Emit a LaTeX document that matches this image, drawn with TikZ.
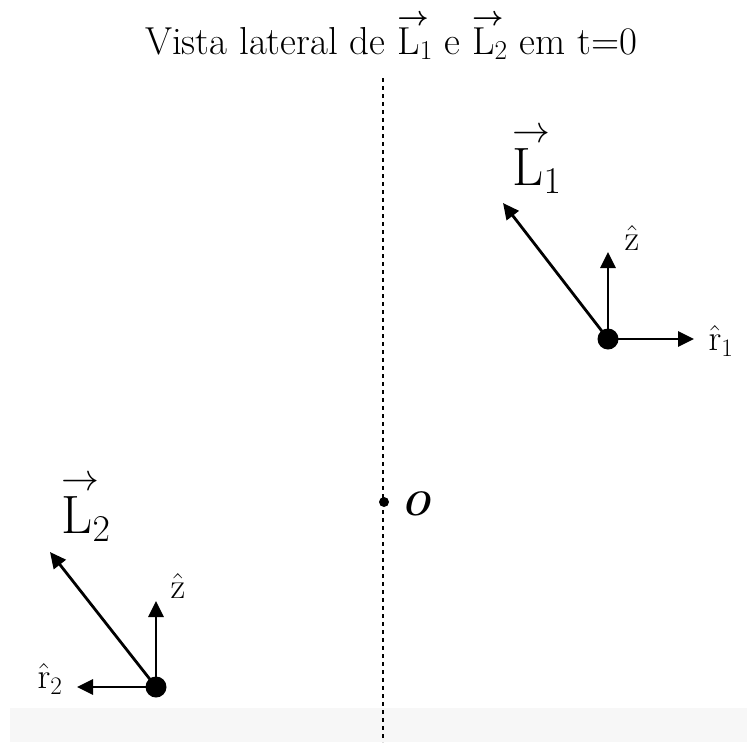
\RequirePackage{fix-cm}
\documentclass[tikz,border=0pt]{standalone}
\usepackage{amsmath}
\usetikzlibrary{arrows.meta}
\newcommand{\myvecL}[3]{{\makebox[0pt][l]{\raisebox{#1}{$\scriptstyle#2{\rightarrow}$}}L$_{#3}$}}
\tikzset{
  vecarrow/.style={line width=2.8pt,-{Triangle[length=16pt,width=15pt]}},
  bigdot/.style={circle,fill=black,inner sep=0pt,minimum size=21pt},
  smalldot/.style={circle,fill=black,inner sep=0pt,minimum size=10pt},
  hatlabel/.style={inner sep=0pt,font=\fontsize{36}{40}\selectfont},
  Llabel/.style={inner sep=0pt,font=\fontsize{54}{60}\selectfont},
}
\begin{document}
\begin{tikzpicture}[x=1pt,y=-1pt]
\useasboundingbox (0,0) rectangle (747,742);
\fill[black!3] (10,708) rectangle (747,742);
\node[inner sep=0pt,anchor=base,font=\fontsize{39}{44}\selectfont] (title) at (391,54)
  {Vista lateral de \myvecL{0.74em}{\boldsymbol}{1} e \myvecL{0.74em}{\boldsymbol}{2} em t=0};
\coordinate (axtop) at (383,78);
\coordinate (axbot) at (383,742);
\draw[dash pattern=on 4pt off 4pt, line width=1.7pt] (axtop) -- (axbot);
\node[smalldot] (O) at (384,502) {};
\node[inner sep=0pt,font=\fontsize{34}{40}\selectfont] (Olab) at (416,504) {\textbf{\textit{O}}};
% particle 1
\coordinate (p1) at (608,339);
\coordinate (z1) at (608,252);
\coordinate (r1) at (694,339);
\coordinate (L1) at (503,203);
\draw[vecarrow] (p1) -- (z1);
\draw[vecarrow] (p1) -- (r1);
\draw[vecarrow] (p1) -- (L1);
\node[bigdot] (d1) at (p1) {};
\node[hatlabel] (z1lab) at (632,238) {$\hat{\mathrm{z}}$};
\node[hatlabel] (r1lab) at (721,341) {$\hat{\mathrm{r}}_1$};
\node[Llabel,anchor=base] (L1lab) at (537,185) {\myvecL{0.78em}{}{1}};
% particle 2
\coordinate (p2) at (156,687);
\coordinate (z2) at (156,601);
\coordinate (r2) at (77,687);
\coordinate (L2) at (50,552);
\draw[vecarrow] (p2) -- (z2);
\draw[vecarrow] (p2) -- (r2);
\draw[vecarrow] (p2) -- (L2);
\node[bigdot] (d2) at (p2) {};
\node[hatlabel] (z2lab) at (178,586) {$\hat{\mathrm{z}}$};
\node[hatlabel] (r2lab) at (50,679) {$\hat{\mathrm{r}}_2$};
\node[Llabel,anchor=base] (L2lab) at (86,533) {\myvecL{0.78em}{}{2}};
\end{tikzpicture}
\end{document}
